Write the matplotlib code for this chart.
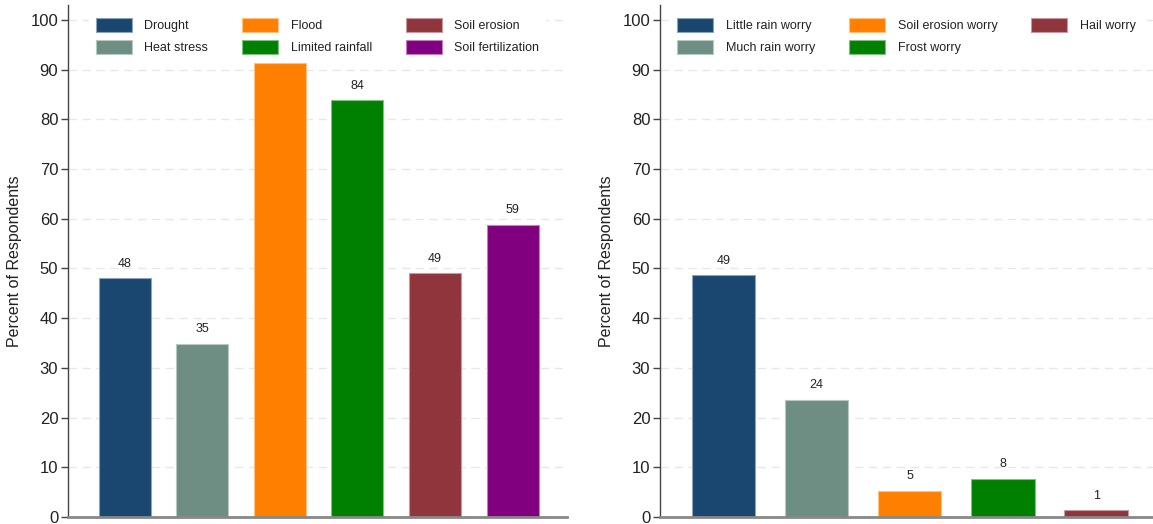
import numpy as np
import matplotlib.pyplot as plt
from matplotlib.colors import to_rgb

plt.rcParams['font.family'] = ['Liberation Sans', 'DejaVu Sans']

# left panel: observed climate problems
left_labels = ['Drought', 'Heat stress', 'Flood', 'Limited rainfall', 'Soil erosion', 'Soil fertilization']
left_values = [48.1, 34.9, 91.4, 83.8, 49.1, 58.8]
left_text = ['48', '35', '91', '84', '49', '59']

# right panel: worries
right_labels = ['Little rain worry', 'Much rain worry', 'Soil erosion worry', 'Frost worry', 'Hail worry']
right_values = [48.6, 23.6, 5.3, 7.7, 1.4]
right_text = ['49', '24', '5', '8', '1']

left_colors = ['#1a476f', '#6e8e84', '#ff8000', '#008000', '#90353b', '#800080']
right_colors = ['#1a476f', '#6e8e84', '#ff8000', '#008000', '#90353b']


def lighter(c, amt=0.5):
    r, g, b = to_rgb(c)
    return (r + (1 - r) * amt, g + (1 - g) * amt, b + (1 - b) * amt)


def draw_panel(ax, labels, values, texts, colors, xlim, width):
    x = np.arange(len(values))
    bars = ax.bar(x, values, width=width, color=colors,
                  edgecolor=[lighter(c) for c in colors], linewidth=0.8,
                  label=labels, zorder=2)
    for b, t in zip(bars, texts):
        ax.annotate(t, (b.get_x() + b.get_width() / 2, b.get_height()),
                    xytext=(0, 6), textcoords='offset points',
                    ha='center', va='bottom', fontsize=9, color='#222222', zorder=3)

    ax.set_xlim(*xlim)
    ax.set_ylim(0, 103)
    ax.set_yticks(np.arange(0, 101, 10))
    ax.set_xticks([])
    ax.tick_params(axis='y', labelsize=12, length=5, width=1, color='#444444',
                   labelcolor='#222222', pad=2)
    ax.yaxis.grid(True, color='#e8e8e8', linestyle=(0, (6, 4)), linewidth=1, zorder=0)
    ax.set_axisbelow(True)
    ax.set_ylabel('Percent of Respondents', fontsize=11.5, color='#222222', labelpad=6)

    for s in ['top', 'right']:
        ax.spines[s].set_visible(False)
    ax.spines['left'].set_color('#444444')
    ax.spines['left'].set_linewidth(1)
    ax.spines['bottom'].set_color('#888888')
    ax.spines['bottom'].set_linewidth(2)

    leg = ax.legend(loc='upper center', bbox_to_anchor=(0.5, 1.0), ncol=3,
                    fontsize=9, frameon=True, facecolor='white', edgecolor='none',
                    framealpha=1, handlelength=2.9, handleheight=1.35,
                    handletextpad=1.0, columnspacing=2.7, labelspacing=0.6,
                    borderaxespad=0.55, borderpad=0.5)
    leg.set_zorder(5)
    for txt in leg.get_texts():
        txt.set_color('#222222')


fig = plt.figure(figsize=(11.53, 5.24), dpi=100)
bottom = 1 - 517 / 524
height = 512 / 524

ax1 = fig.add_axes([68 / 1153, bottom, (567 - 68) / 1153, height])
draw_panel(ax1, left_labels, left_values, left_text, left_colors, (-0.73, 5.7), 0.67)

ax2 = fig.add_axes([660 / 1153, bottom, (1153 - 660) / 1153, height])
draw_panel(ax2, right_labels, right_values, right_text, right_colors, (-0.68, 4.61), 0.68)

fig.savefig('out.png', dpi=100)
plt.close(fig)
